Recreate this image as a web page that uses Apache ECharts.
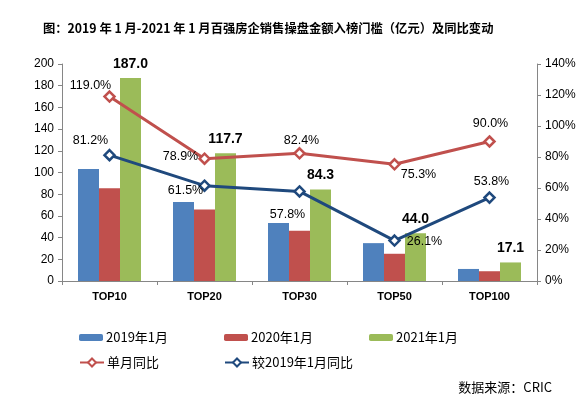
<!DOCTYPE html>
<html><head><meta charset="utf-8">
<script src="https://cdn.jsdelivr.net/npm/echarts@6/dist/echarts.min.js"></script>
<style>html,body{margin:0;padding:0;background:#fff}#c{width:588px;height:403px}</style>
</head><body><div id="c"></div>
<script>
const categories = ['TOP10','TOP20','TOP30','TOP50','TOP100'];
const v2019 = [103.2, 72.9, 53.4, 34.9, 11.1];
const v2020 = [85.4, 65.8, 46.2, 25.1, 9.0];
const v2021 = [187.0, 117.7, 84.3, 44.0, 17.1];
const yoyMonth = [119.0, 78.9, 82.4, 75.3, 90.0];
const yoy2019 = [81.2, 61.5, 57.8, 26.1, 53.8];
const leftTicks = [0, 200, 20];
const rightTicks = [0, 140, 20];

const redOffsets = [[-19,-11],[-24,-2],[2,-13],[24,10],[1,-18]];
const blueOffsets = [[-19,-15],[-19,5],[-12,23],[30,1],[2,-16]];

const numFont = 'Liberation Sans';
const cjkFont = '"Noto Sans CJK SC", sans-serif';

function lineData(vals, offs){
  return vals.map((v,i)=>({value:v, label:{offset:offs[i]}}));
}
const axisLineStyle = {show:true, lineStyle:{color:'#868686', width:1}};

const chart = echarts.init(document.getElementById('c'), null, {renderer:'canvas'});
const barNames = ['2019年1月','2020年1月','2021年1月'];
const lineNames = ['单月同比','较2019年1月同比'];
const legendX = [74, 219, 364];
const legends = [];
barNames.forEach((n,i)=>legends.push({data:[n], left:legendX[i], top:326, itemWidth:24, itemHeight:7, itemGap:0,
  textStyle:{fontSize:13, fontFamily:cjkFont, color:'#000', padding:[0,0,0,-2]}}));
lineNames.forEach((n,i)=>legends.push({data:[n], left:legendX[i], top:351, itemWidth:24, itemHeight:10, itemGap:0,
  textStyle:{fontSize:13, fontFamily:cjkFont, color:'#000', padding:[0,0,0,-2]}}));

chart.setOption({
  animation:false,
  backgroundColor:'#fff',
  title:{text:'图：2019 年 1 月-2021 年 1 月百强房企销售操盘金额入榜门槛（亿元）及同比变动', left:38, top:17,
    textStyle:{fontSize:12.3, fontWeight:'bold', fontFamily:cjkFont, color:'#000'}},
  legend:legends,
  grid:{left:62, right:51, top:64, bottom:122},
  xAxis:{type:'category', data:categories, axisLine:axisLineStyle,
    axisTick:{show:true, alignWithLabel:false, length:4, lineStyle:{color:'#868686'}},
    axisLabel:{fontSize:11, fontWeight:'bold', fontFamily:numFont, color:'#000', margin:10}},
  yAxis:[
    {type:'value', min:leftTicks[0], max:leftTicks[1], interval:leftTicks[2], axisLine:axisLineStyle,
     axisTick:{show:true, length:4, lineStyle:{color:'#868686'}}, splitLine:{show:false},
     axisLabel:{fontSize:12, fontFamily:numFont, color:'#000', margin:8}},
    {type:'value', min:rightTicks[0], max:rightTicks[1], interval:rightTicks[2], axisLine:axisLineStyle,
     axisTick:{show:true, length:4, lineStyle:{color:'#868686'}}, splitLine:{show:false},
     axisLabel:{fontSize:12, fontFamily:numFont, color:'#000', margin:8, formatter:'{value}%'}}
  ],
  series:[
    {name:barNames[0], type:'bar', data:v2019, barWidth:21, barGap:'0%', itemStyle:{color:'#4F81BD'}},
    {name:barNames[1], type:'bar', data:v2020, barWidth:21, barGap:'0%', itemStyle:{color:'#C0504D'}},
    {name:barNames[2], type:'bar', data:v2021, barWidth:21, barGap:'0%', itemStyle:{color:'#9BBB59'},
     label:{show:true, position:'top', distance:7, fontSize:14, fontWeight:'bold', fontFamily:numFont, color:'#000',
       formatter:p=>p.value.toFixed(1)}},
    {name:lineNames[0], type:'line', yAxisIndex:1, data:lineData(yoyMonth, redOffsets), symbol:'diamond', symbolSize:10,
     lineStyle:{color:'#C0504D', width:3}, itemStyle:{color:'#fff', borderColor:'#C0504D', borderWidth:2.5},
     label:{show:true, position:'inside', fontSize:12.5, fontFamily:numFont, color:'#000', formatter:p=>p.value.toFixed(1)+'%'}},
    {name:lineNames[1], type:'line', yAxisIndex:1, data:lineData(yoy2019, blueOffsets), symbol:'diamond', symbolSize:10,
     lineStyle:{color:'#1F497D', width:3}, itemStyle:{color:'#fff', borderColor:'#1F497D', borderWidth:2.5},
     label:{show:true, position:'inside', fontSize:12.5, fontFamily:numFont, color:'#000', formatter:p=>p.value.toFixed(1)+'%'}}
  ],
  graphic:[{type:'text', right:36, top:381, style:{text:'数据来源：CRIC', fontSize:13, fontFamily:cjkFont, fill:'#000'}}]
});
</script></body></html>
